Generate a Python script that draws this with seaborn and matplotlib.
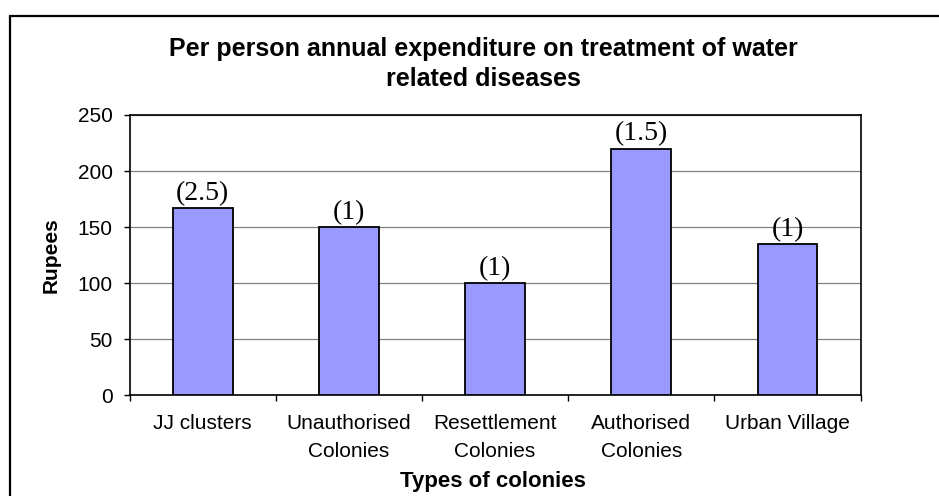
import matplotlib
matplotlib.use("Agg")
import matplotlib.pyplot as plt
from matplotlib.lines import Line2D
from matplotlib.ticker import FixedLocator
import seaborn as sns
import pandas as pd

# Data
colonies = ["JJ clusters", "Unauthorised\nColonies", "Resettlement\nColonies",
            "Authorised\nColonies", "Urban Village"]
rupees = [167, 150, 100, 220, 135]
bar_notes = ["(2.5)", "(1)", "(1)", "(1.5)", "(1)"]
y_ticks = [0, 50, 100, 150, 200, 250]

title = "Per person annual expenditure on treatment of water\nrelated diseases"
x_title = "Types of colonies"
y_title = "Rupees"

sns.set_style("white")
plt.rcParams["font.family"] = ["Liberation Sans", "DejaVu Sans"]
plt.rcParams["text.color"] = "black"
plt.rcParams["axes.labelcolor"] = "black"

df = pd.DataFrame({"colony": colonies, "rupees": rupees})

W, H = 939, 496
fig = plt.figure(figsize=(W / 100, H / 100), dpi=100)
fig.patch.set_facecolor("white")

# plot area in pixel terms
left, right, top, bottom = 129.5, 860.6, 115.0, 395.3
ax = fig.add_axes([left / W, 1 - bottom / H, (right - left) / W, (bottom - top) / H])

sns.barplot(data=df, x="colony", y="rupees", color="#9999FF", saturation=1,
            width=0.41, edgecolor="black", linewidth=1.3, ax=ax, zorder=3)

ax.set_ylim(0, 250)
ax.set_xlim(-0.5, len(colonies) - 0.5)
ax.set_yticks(y_ticks)
ax.yaxis.grid(True, color="#808080", linewidth=0.9, zorder=0)
ax.set_axisbelow(True)

for s in ax.spines.values():
    s.set_visible(True)
    s.set_color("black")
    s.set_linewidth(1.2)

# category separators on the x axis
ax.xaxis.set_minor_locator(FixedLocator([i - 0.5 for i in range(len(colonies) + 1)]))
ax.tick_params(axis="x", which="major", length=0, pad=13.5, labelsize=15, labelcolor="black")
ax.tick_params(axis="x", which="minor", length=4, width=1, direction="out", bottom=True, color="black")
ax.tick_params(axis="y", length=4, width=1, direction="out", left=True, pad=8, labelsize=15,
               color="black", labelcolor="black")
for lbl in ax.get_xticklabels():
    lbl.set_linespacing(1.62)

ax.set_xlabel(x_title, fontsize=16, fontweight="bold")
ax.xaxis.set_label_coords((493 - left) / (right - left), -0.27)
ax.set_ylabel(y_title, fontsize=15, fontweight="bold")
ax.yaxis.set_label_coords((61 - left) / (right - left), 0.5)

# value notes above bars
for i, (v, note) in enumerate(zip(rupees, bar_notes)):
    ax.annotate(note, (i, v), xytext=(0, 1.5), textcoords="offset points",
                ha="center", va="bottom", fontsize=20,
                family=["Liberation Serif", "DejaVu Serif"], zorder=4)

fig.text(483 / W, 1 - 64 / H, title, ha="center", va="center",
         fontsize=18, fontweight="bold", linespacing=1.35)

# outer chart border
lw = 1.6
fig.add_artist(Line2D([9.5 / W, 9.5 / W], [0, 1 - 16 / H], color="black", linewidth=lw,
                      transform=fig.transFigure))
fig.add_artist(Line2D([9.5 / W, 1], [1 - 16 / H, 1 - 16 / H], color="black", linewidth=lw,
                      transform=fig.transFigure))

fig.savefig("out.png", dpi=100, facecolor="white")
